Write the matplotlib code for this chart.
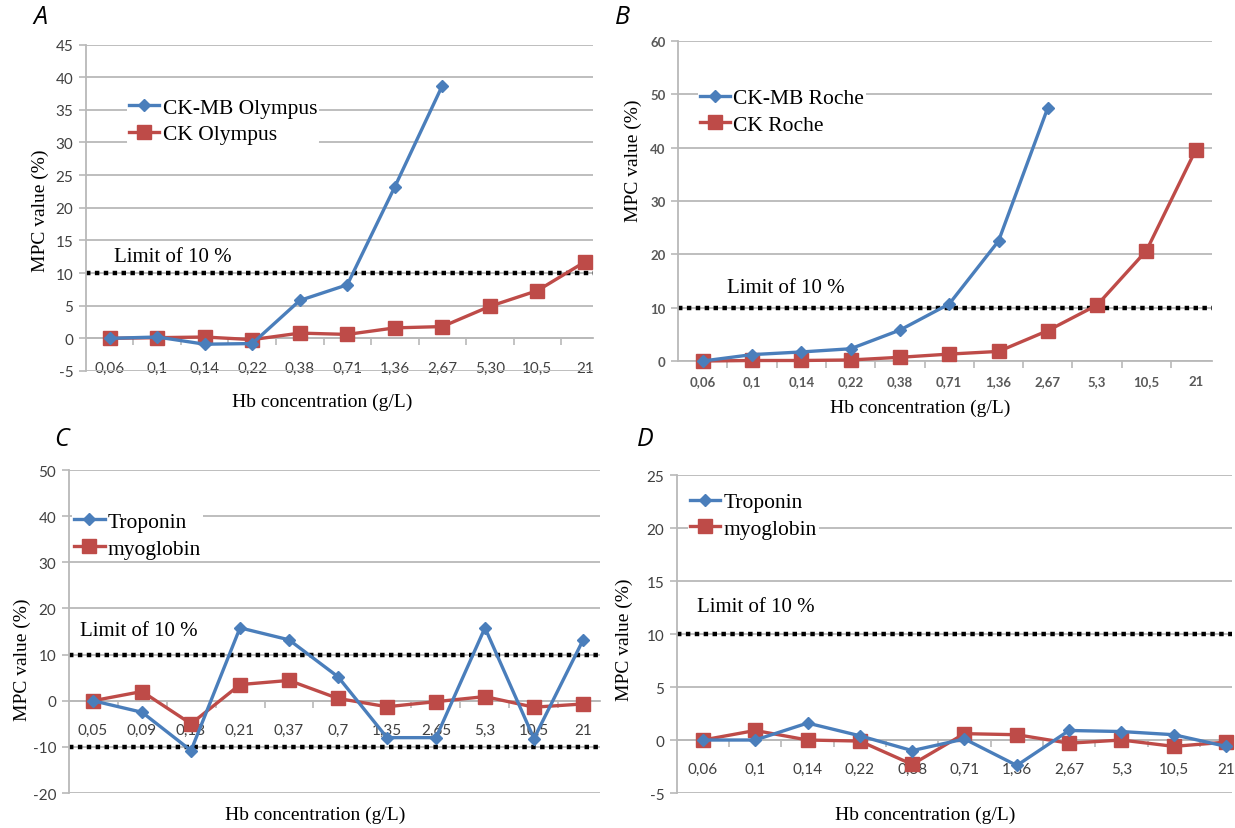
import numpy as np
import matplotlib
matplotlib.use("Agg")
import matplotlib.pyplot as plt
from matplotlib.ticker import FixedLocator

plt.rcParams["axes.unicode_minus"] = False

# data
hb_a = ["0,06", "0,1", "0,14", "0,22", "0,38", "0,71", "1,36", "2,67", "5,30", "10,5", "21"]
hb_b = ["0,06", "0,1", "0,14", "0,22", "0,38", "0,71", "1,36", "2,67", "5,3", "10,5", "21"]
hb_c = ["0,05", "0,09", "0,13", "0,21", "0,37", "0,7", "1,35", "2,65", "5,3", "10,5", "21"]
hb_d = ["0,06", "0,1", "0,14", "0,22", "0,38", "0,71", "1,36", "2,67", "5,3", "10,5", "21"]

ckmb_olympus = [0, 0.2, -0.9, -0.8, 5.8, 8.2, 23.2, 38.7, np.nan, np.nan, np.nan]
ck_olympus = [0, 0.1, 0.2, -0.2, 0.8, 0.6, 1.6, 1.8, 4.9, 7.3, 11.7]

ckmb_roche = [0, 1.2, 1.7, 2.3, 5.8, 10.7, 22.5, 47.5, np.nan, np.nan, np.nan]
ck_roche = [0, 0.1, 0.1, 0.2, 0.7, 1.3, 1.8, 5.7, 10.5, 20.7, 39.6]

troponin_c = [0, -2.5, -10.8, 15.8, 13.2, 5.2, -8.0, -8.0, 15.8, -8.2, 13.1]
myoglobin_c = [0, 2.0, -5.0, 3.5, 4.4, 0.5, -1.3, -0.2, 0.9, -1.4, -0.7]

troponin_d = [0, 0, 1.6, 0.4, -1.0, 0.1, -2.4, 0.9, 0.8, 0.5, -0.6]
myoglobin_d = [0, 0.9, 0, -0.1, -2.3, 0.6, 0.5, -0.3, 0, -0.6, -0.2]

BLUE = "#4A7EBB"
RED = "#BE4B48"
GRID = "#b9b9b9"
SERIF = "Liberation Serif"
TICKFONT = "Lato"

fig = plt.figure(figsize=(12.35, 8.29), dpi=100)


def panel(rect, cats, s1, s2, names, ylim, ystep, xmax, limits, limit_xy,
          leg_xy, xlab_xy, ylab_xy, tick_size=11, tick_color="#404040",
          tick_weight="normal", xpad=16):
    ax = fig.add_axes(rect)
    x = np.arange(len(cats))
    ax.plot(x, s1, color=BLUE, lw=2.4, marker="D", ms=6.5, label=names[0], clip_on=False, zorder=4)
    ax.plot(x, s2, color=RED, lw=2.4, marker="s", ms=9.5, label=names[1], clip_on=False, zorder=3)
    for lv in limits:
        ax.axhline(lv, color="black", lw=3.2, ls=(0, (1, 1)), zorder=2)

    ax.set_xlim(-0.5, xmax)
    ax.set_ylim(*ylim)
    ax.set_yticks(np.arange(ylim[0], ylim[1] + 0.1, ystep))
    ax.yaxis.grid(True, color=GRID, lw=1.3)
    ax.set_axisbelow(True)

    for s in ["top", "right"]:
        ax.spines[s].set_visible(False)
    ax.spines["left"].set_color(GRID)
    ax.spines["left"].set_linewidth(1.3)
    ax.spines["bottom"].set_color(GRID)
    ax.spines["bottom"].set_linewidth(1.3)
    ax.spines["bottom"].set_position(("data", 0))

    ax.set_xticks(x)
    ax.set_xticklabels(cats)
    ax.xaxis.set_minor_locator(FixedLocator(np.arange(0.5, len(cats) - 1, 1)))
    ax.tick_params(axis="x", which="major", length=0, pad=xpad,
                   labelsize=tick_size, labelcolor=tick_color)
    ax.tick_params(axis="x", which="minor", length=5, width=1.2, color=GRID, direction="out")
    ax.tick_params(axis="y", length=5, width=1.2, color=GRID, pad=4,
                   labelsize=tick_size, labelcolor=tick_color)
    for lab in ax.get_xticklabels() + ax.get_yticklabels():
        lab.set_fontfamily(TICKFONT)
        lab.set_fontweight(tick_weight)

    ax.text(limit_xy[0], limit_xy[1], "Limit of 10 %", family=SERIF, fontsize=15,
            ha="left", va="center", zorder=5)
    ax.text(xlab_xy[0], xlab_xy[1], "Hb concentration (g/L)", family=SERIF, fontsize=14,
            ha="center", va="center", transform=ax.transAxes)
    ax.text(ylab_xy[0], ylab_xy[1], "MPC value (%)", family=SERIF, fontsize=14,
            ha="center", va="center", rotation=90, transform=ax.transAxes)

    leg = ax.legend(loc="upper left", bbox_to_anchor=leg_xy, frameon=True,
                    prop={"family": SERIF, "size": 15.5}, handlelength=1.4,
                    handletextpad=0.15, labelspacing=0.3, borderpad=0.1,
                    borderaxespad=0)
    leg.get_frame().set_facecolor("white")
    leg.get_frame().set_edgecolor("none")
    leg.get_frame().set_alpha(1)
    return ax


panel([0.0696, 0.5513, 0.4105, 0.3938], hb_a, ckmb_olympus, ck_olympus,
      ["CK-MB Olympus", "CK Olympus"], (-5, 45), 5, 10.17, [10],
      (0.1, 12.5), (0.081, 0.844), (0.465, -0.093), (-0.09, 0.495))

panel([0.549, 0.5633, 0.4324, 0.386], hb_b, ckmb_roche, ck_roche,
      ["CK-MB Roche", "CK Roche"], (0, 60), 10, 10.33, [10],
      (0.5, 13.8), (0.037, 0.86), (0.453, -0.144), (-0.084, 0.63),
      tick_size=9.5, tick_color="#595959", tick_weight="bold", xpad=10)

panel([0.0555, 0.0422, 0.4304, 0.3896], hb_c, troponin_c, myoglobin_c,
      ["Troponin", "myoglobin"], (-20, 50), 10, 10.35, [10, -10],
      (-0.27, 15.3), (0.007, 0.877), (0.464, -0.065), (-0.087, 0.415))

panel([0.548, 0.0422, 0.4494, 0.3836], hb_d, troponin_d, myoglobin_d,
      ["Troponin", "myoglobin"], (-5, 25), 5, 10.11, [10],
      (-0.12, 12.6), (0.02, 0.952), (0.447, -0.066), (-0.094, 0.484))

# panel letters
for lx, ly, letter in [(40, 18, "A"), (622, 18, "B"), (62, 440, "C"), (645, 440, "D")]:
    fig.text(lx / 1235, 1 - ly / 829, letter, fontsize=18, style="italic",
             family="Open Sans", ha="center", va="center")

fig.savefig("out.png", dpi=100)
